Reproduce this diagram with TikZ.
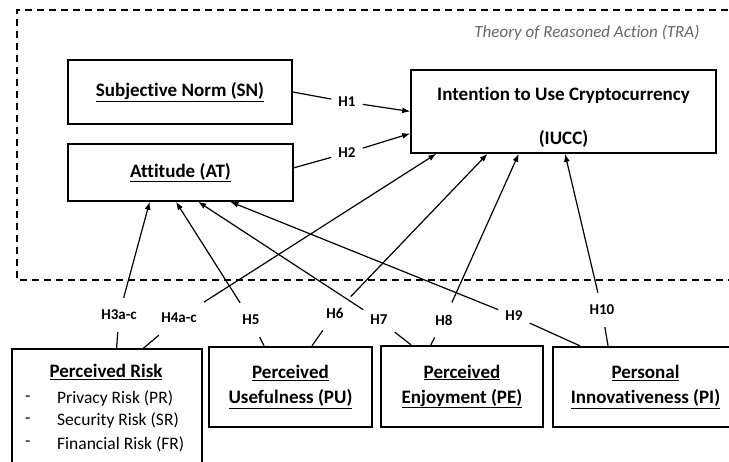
\documentclass[tikz,border=0pt]{standalone}
\usepackage{fontspec}
\setmainfont{Carlito}[Ligatures=NoCommon]
\usetikzlibrary{arrows.meta,calc}
\begin{document}
\begin{tikzpicture}[x=1pt,y=-1pt,
  box/.style={draw, line width=1.6pt, inner sep=0pt, font=\bfseries\fontsize{19}{25}\selectfont, align=center},
  bbox/.style={box, line width=2.3pt},
  hyp/.style={font=\bfseries\fontsize{15}{15}\selectfont, inner xsep=7pt, inner ysep=12pt},
  item/.style={font=\fontsize{17.5}{20}\selectfont, anchor=west, inner sep=0pt},
  conn/.style={line width=1.2pt},
  arr/.style={conn, -{Latex[length=8pt,width=6pt]}},
]
\useasboundingbox (0,0) rectangle (729,462);
% TRA frame
\draw[line width=1.5pt, dash pattern=on 7pt off 5pt] (740,10) -- (17,10) -- (17,280) -- (740,280);
\node[font=\itshape\fontsize{17}{17}\selectfont, text=black!60, anchor=east] (tra) at (703,33) {Theory of Reasoned Action (TRA)};

% top boxes
\node[box, minimum width=224pt, minimum height=64pt] (sn) at (180,92) {\underline{Subjective Norm (SN)}};
\node[box, minimum width=225pt, minimum height=57pt] (at) at (180.5,172.5) {\underline{Attitude (AT)}};
\node[box, minimum width=305pt, minimum height=83pt] (iucc) at (563.5,111.5) {\rule{0pt}{24pt}Intention to Use Cryptocurrency\\[19pt](IUCC)};

% bottom boxes
\node[draw, line width=1.4pt, inner sep=0pt, minimum width=190pt, minimum height=118pt] (pr) at (107,408) {};
\node[font=\bfseries\fontsize{19}{25}\selectfont, inner sep=0pt] (prt) at (106,372) {\underline{Perceived Risk}};
\node[item] (d1) at (25,399) {-};
\node[item] (d2) at (25,421) {-};
\node[item] (d3) at (25,444) {-};
\node[item] (i1) at (57,399) {Privacy Risk (PR)};
\node[item] (i2) at (57,421) {Security Risk (SR)};
\node[item] (i3) at (57,444) {Financial Risk (FR)};
\node[bbox, minimum width=163pt, minimum height=80pt] (pu) at (290.5,387) {\underline{Perceived}\\\underline{Usefulness (PU)}};
\node[bbox, minimum width=162pt, minimum height=81pt] (pe) at (462,386.5) {\underline{Perceived}\\\underline{Enjoyment (PE)}};
\node[bbox, minimum width=185pt, minimum height=80pt] (pi) at (645.5,387) {\underline{Personal}\\\underline{Innovativeness (PI)}};

% hypothesis labels
\node[hyp] (h1) at (347,102) {H1};
\node[hyp] (h2) at (347,153) {H2};
\node[hyp] (h3) at (119,315) {H3a-c};
\node[hyp] (h4) at (179,318) {H4a-c};
\node[hyp] (h5) at (251,320) {H5};
\node[hyp] (h6) at (335,313) {H6};
\node[hyp] (h7) at (379,320) {H7};
\node[hyp] (h8) at (444,320) {H8};
\node[hyp] (h9) at (514,316) {H9};
\node[hyp] (h10) at (602,310) {H10};

% H1, H2
\draw[conn] (sn.east) -- (h1);
\draw[arr] (h1) -- ($(iucc.north west)!0.5!(iucc.south west)$);
\draw[conn] ($(at.north east)!0.42!(at.south east)$) -- (h2);
\draw[arr] (h2) -- ($(iucc.north west)!0.76!(iucc.south west)$);
% H3 - H10
\draw[conn] ($(pr.north west)!0.55!(pr.north east)$) -- (h3);
\draw[arr] (h3) -- ($(at.south west)!0.364!(at.south east)$);
\draw[conn] ($(pr.north west)!0.69!(pr.north east)$) -- (h4);
\draw[arr] (h4) -- ($(iucc.south west)!0.085!(iucc.south east)$);
\draw[conn] ($(pu.north west)!0.34!(pu.north east)$) -- (h5);
\draw[arr] (h5) -- ($(at.south west)!0.48!(at.south east)$);
\draw[conn] ($(pu.north west)!0.63!(pu.north east)$) -- (h6);
\draw[arr] (h6) -- ($(iucc.south west)!0.252!(iucc.south east)$);
\draw[conn] ($(pe.north west)!0.19!(pe.north east)$) -- (h7);
\draw[arr] (h7) -- ($(at.south west)!0.578!(at.south east)$);
\draw[conn] ($(pe.north west)!0.31!(pe.north east)$) -- (h8);
\draw[arr] (h8) -- ($(iucc.south west)!0.354!(iucc.south east)$);
\draw[conn] ($(pi.north west)!0.15!(pi.north east)$) -- (h9);
\draw[arr] (h9) -- ($(at.south west)!0.72!(at.south east)$);
\draw[conn] ($(pi.north west)!0.30!(pi.north east)$) -- (h10);
\draw[arr] (h10) -- ($(iucc.south west)!0.505!(iucc.south east)$);
\end{tikzpicture}
\end{document}
